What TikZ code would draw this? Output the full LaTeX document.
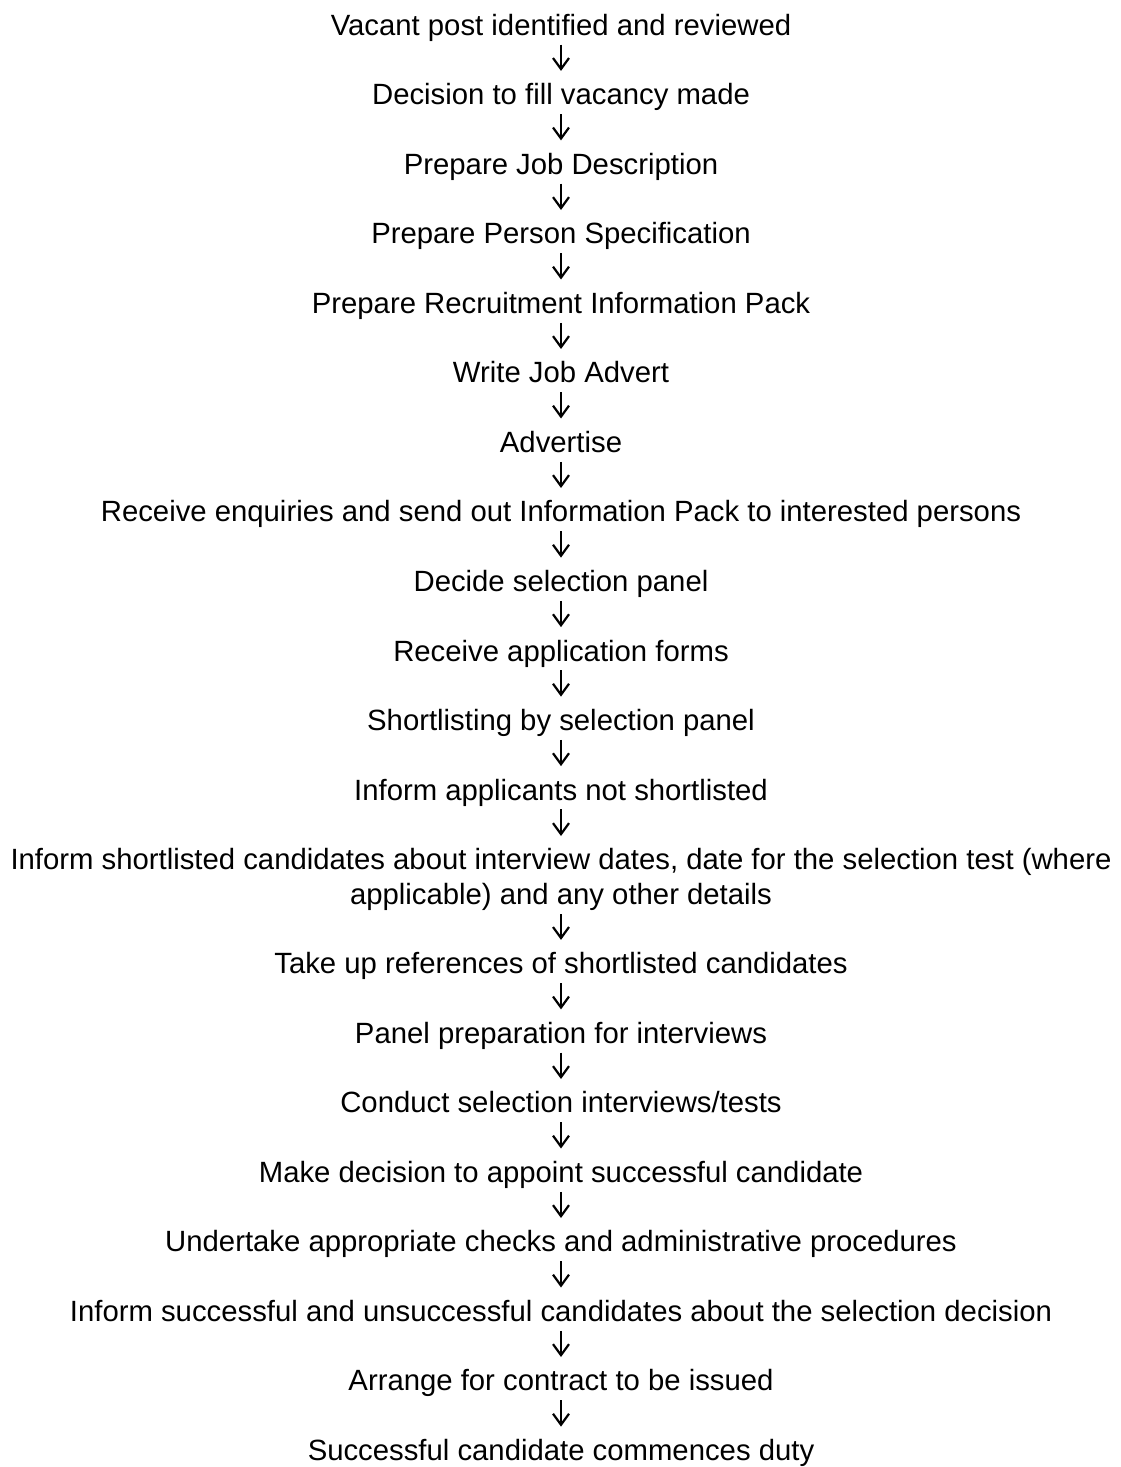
\documentclass[tikz,border=0pt]{standalone}
\usepackage{fontspec}
\setmainfont{Liberation Sans}
\usetikzlibrary{arrows.meta}

\tikzset{
  stage/.style={inner sep=0pt, text height=16.75pt, text depth=4.5pt, anchor=base,
    font=\fontsize{14.65}{17.38}\selectfont},
  flow/.style={-{Straight Barb[length=5.5pt,width=8pt]}, line width=1.1pt}
}

\begin{document}
\begin{tikzpicture}[x=0.5pt, y=-0.5pt]
    \useasboundingbox (0,0) rectangle (1120,1467);

    % stages, placed on their baselines
    \node[stage] (vacant) at (561, 35.3) {Vacant post identified and reviewed};
    \node[stage] (decision) at (561, 104.8) {Decision to fill vacancy made};
    \node[stage] (jobdesc) at (561, 174.3) {Prepare Job Description};
    \node[stage] (personspec) at (561, 243.9) {Prepare Person Specification};
    \node[stage] (infopack) at (561, 313.4) {Prepare Recruitment Information Pack};
    \node[stage] (advert) at (561, 382.9) {Write Job Advert};
    \node[stage] (advertise) at (561, 452.4) {Advertise};
    \node[stage] (enquiries) at (561, 521.9) {Receive enquiries and send out Information Pack to interested persons};
    \node[stage] (panel) at (561, 591.5) {Decide selection panel};
    \node[stage] (forms) at (561, 661.0) {Receive application forms};
    \node[stage] (shortlist) at (561, 730.5) {Shortlisting by selection panel};
    \node[stage] (notlisted) at (561, 800.0) {Inform applicants not shortlisted};
    \node[stage, text height={}, text depth={}, align=center, anchor=north] (listed) at (561, 836.0)
      {\rule{0pt}{16.75pt}Inform shortlisted candidates about interview dates, date for the selection test (where\\
       applicable) and any other details\rule[-4.5pt]{0pt}{4.5pt}};
    \node[stage] (references) at (561, 973.8) {Take up references of shortlisted candidates};
    \node[stage] (panelprep) at (561, 1043.3) {Panel preparation for interviews};
    \node[stage] (interviews) at (561, 1112.9) {Conduct selection interviews/tests};
    \node[stage] (appoint) at (561, 1182.4) {Make decision to appoint successful candidate};
    \node[stage] (checks) at (561, 1251.9) {Undertake appropriate checks and administrative procedures};
    \node[stage] (informall) at (561, 1321.4) {Inform successful and unsuccessful candidates about the selection decision};
    \node[stage] (contract) at (561, 1390.9) {Arrange for contract to be issued};
    \node[stage] (duty) at (561, 1460.5) {Successful candidate commences duty};

    % arrows
    \draw[flow] (vacant) -- (decision);
    \draw[flow] (decision) -- (jobdesc);
    \draw[flow] (jobdesc) -- (personspec);
    \draw[flow] (personspec) -- (infopack);
    \draw[flow] (infopack) -- (advert);
    \draw[flow] (advert) -- (advertise);
    \draw[flow] (advertise) -- (enquiries);
    \draw[flow] (enquiries) -- (panel);
    \draw[flow] (panel) -- (forms);
    \draw[flow] (forms) -- (shortlist);
    \draw[flow] (shortlist) -- (notlisted);
    \draw[flow] (notlisted) -- (listed);
    \draw[flow] (listed) -- (references);
    \draw[flow] (references) -- (panelprep);
    \draw[flow] (panelprep) -- (interviews);
    \draw[flow] (interviews) -- (appoint);
    \draw[flow] (appoint) -- (checks);
    \draw[flow] (checks) -- (informall);
    \draw[flow] (informall) -- (contract);
    \draw[flow] (contract) -- (duty);
\end{tikzpicture}
\end{document}
